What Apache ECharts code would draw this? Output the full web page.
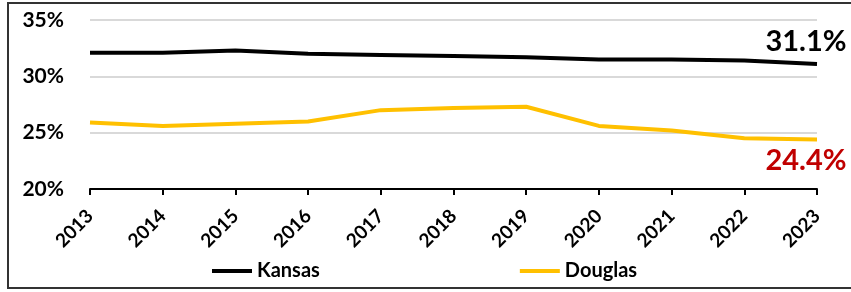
<!DOCTYPE html>
<html>
<head>
<meta charset="utf-8">
<script src="https://cdn.jsdelivr.net/npm/echarts@6/dist/echarts.min.js"></script>
<style>
  html, body { margin: 0; padding: 0; background: #fff; }
  #chart { width: 851px; height: 292px; }
</style>
</head>
<body>
<div id="chart"></div>
<script>
  // data
  var years = ['2013', '2014', '2015', '2016', '2017', '2018', '2019', '2020', '2021', '2022', '2023'];
  var kansas = [32.1, 32.1, 32.3, 32.0, 31.9, 31.8, 31.7, 31.5, 31.5, 31.4, 31.1];
  var douglas = [25.9, 25.6, 25.8, 26.0, 27.0, 27.2, 27.3, 25.6, 25.2, 24.5, 24.4];
  var yTicks = [20, 25, 30, 35];

  var font = 'Lato, "Open Sans", sans-serif';

  // only the last point gets a label
  function withEndLabel(arr, lbl) {
    return arr.map(function (v, i) {
      if (i !== arr.length - 1) return v;
      return { value: v, label: lbl };
    });
  }

  var chart = echarts.init(document.getElementById('chart'));
  chart.setOption({
    animation: false,
    textStyle: { fontFamily: font },
    graphic: [{
      type: 'rect',
      shape: { x: 8, y: 3, width: 860, height: 285 },
      style: { fill: 'none', stroke: '#333', lineWidth: 2 },
      silent: true
    }],
    grid: { left: 90, right: 34, top: 20, bottom: 103 },
    legend: {
      bottom: 6,
      left: 207,
      itemGap: 200,
      itemWidth: 40,
      itemHeight: 4,
      icon: 'rect',
      textStyle: { fontFamily: font, fontSize: 20, fontWeight: 'bold', color: '#000' },
      data: ['Kansas', 'Douglas']
    },
    xAxis: {
      type: 'category',
      data: years,
      boundaryGap: false,
      axisLine: { lineStyle: { color: '#000', width: 2 } },
      axisTick: { show: true, length: 6, lineStyle: { color: '#000', width: 2 } },
      axisLabel: {
        rotate: 45, margin: 24, color: '#000',
        fontFamily: font, fontSize: 19, fontWeight: 'bold'
      }
    },
    yAxis: {
      type: 'value',
      min: yTicks[0],
      max: yTicks[yTicks.length - 1],
      interval: 5,
      axisLine: { show: false },
      axisTick: { show: false },
      splitLine: { lineStyle: { color: '#d9d9d9', width: 2 } },
      axisLabel: {
        margin: 26, color: '#000',
        fontFamily: font, fontSize: 21, fontWeight: 'bold',
        formatter: '{value}%'
      }
    },
    series: [
      {
        name: 'Kansas',
        type: 'line',
        data: withEndLabel(kansas, {
          show: true, position: 'top', offset: [-11, -3],
          formatter: '{c}%', color: '#000',
          fontFamily: font, fontSize: 29, fontWeight: 'bold'
        }),
        symbol: 'circle',
        symbolSize: 0,
        showSymbol: true,
        lineStyle: { color: '#000', width: 4 },
        itemStyle: { color: '#000' }
      },
      {
        name: 'Douglas',
        type: 'line',
        data: withEndLabel(douglas, {
          show: true, position: 'bottom', offset: [-11, 2],
          formatter: '{c}%', color: '#c00000',
          fontFamily: font, fontSize: 29, fontWeight: 'bold'
        }),
        symbol: 'circle',
        symbolSize: 0,
        showSymbol: true,
        lineStyle: { color: '#ffc000', width: 4 },
        itemStyle: { color: '#ffc000' }
      }
    ]
  });
</script>
</body>
</html>
